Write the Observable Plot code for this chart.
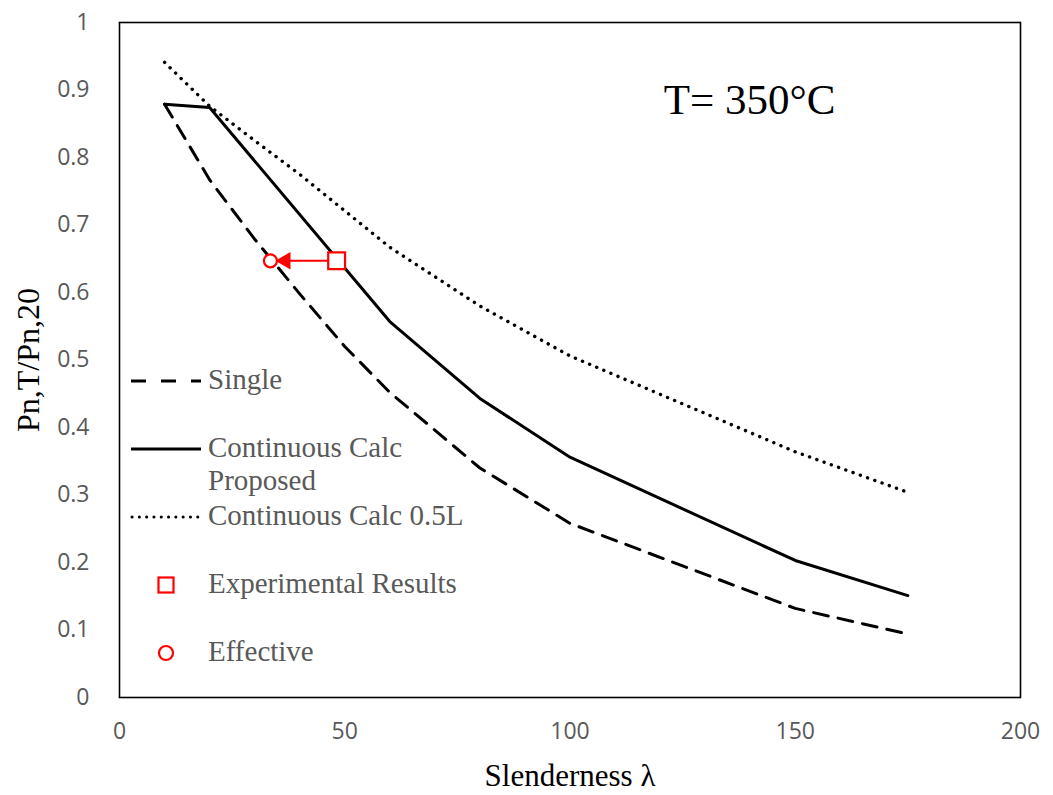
<!DOCTYPE html>
<html>
<head>
<meta charset="utf-8">
<script src="https://cdn.jsdelivr.net/npm/d3@7"></script>
<script src="https://cdn.jsdelivr.net/npm/@observablehq/plot@0.6"></script>
<style>
  html, body { margin: 0; padding: 0; background: #fff; }
  #wrap { position: relative; width: 1053px; height: 795px; }
  #legend { position: absolute; left: 0; top: 0; pointer-events: none; }
  #legend text { font-family: "Liberation Serif", "Times New Roman", serif; font-size: 29px; fill: #595959; dominant-baseline: middle; }
</style>
</head>
<body>
<div id="wrap"></div>
<script>
// ---- Data ----
const slenderness = [10, 20, 30, 40, 50, 60, 80, 100, 150, 175];
const single      = [0.879, 0.767, 0.679, 0.598, 0.520, 0.452, 0.340, 0.258, 0.132, 0.094];
const contX       = [10, 20, 60, 80, 100, 150, 175];
const contCalc    = [0.879, 0.874, 0.557, 0.443, 0.356, 0.203, 0.151];
const halfL       = [0.941, 0.876, 0.825, 0.775, 0.721, 0.667, 0.580, 0.506, 0.364, 0.304];
const experimentalX = [48.2];
const experimentalY = [0.647];
const effectiveX  = [33.5];
const effectiveY  = [0.647];
const xTicks = [0, 50, 100, 150, 200];
const yTicks = [0, 0.1, 0.2, 0.3, 0.4, 0.5, 0.6, 0.7, 0.8, 0.9, 1];
const yTickLabels = ["0", "0.1", "0.2", "0.3", "0.4", "0.5", "0.6", "0.7", "0.8", "0.9", "1"];
const titleText = "T= 350°C";
const xLabel = "Slenderness λ";
const yLabel = "Pn,T/Pn,20";
const legendLabels = ["Single", "Continuous Calc", "Proposed", "Continuous Calc 0.5L", "Experimental Results", "Effective"];

// ---- Tables built from the arrays ----
const singleData = slenderness.map((x, i) => ({x, y: single[i]}));
const halfData = slenderness.map((x, i) => ({x, y: halfL[i]}));
const contData = contX.map((x, i) => ({x, y: contCalc[i]}));
const expData = experimentalX.map((x, i) => ({x, y: experimentalY[i]}));
const effData = effectiveX.map((x, i) => ({x, y: effectiveY[i]}));
const arrowData = expData.map((d, i) => ({x1: d.x, y1: d.y, x2: effData[i].x, y2: effData[i].y}));

const serif = "Liberation Serif, Times New Roman, serif";
const sans = "Open Sans, Roboto, sans-serif";
const grey = "#595959";

const chart = Plot.plot({
  width: 1053,
  height: 795,
  marginLeft: 119,
  marginRight: 33,
  marginTop: 22,
  marginBottom: 98,
  style: {background: "#fff"},
  x: {domain: [0, 200]},
  y: {domain: [0, 1]},
  marks: [
    Plot.axisX({ticks: xTicks, tickSize: 0, tickPadding: 25, fontSize: 23, fontFamily: sans, fill: grey, label: null}),
    Plot.axisY({ticks: yTicks, tickSize: 0, tickPadding: 30, fontSize: 23, fontFamily: sans, fill: grey, label: null,
      tickFormat: (d) => yTickLabels[yTicks.indexOf(d)]}),
    Plot.line(halfData, {x: "x", y: "y", stroke: "black", strokeWidth: 3.4, strokeDasharray: "0.1,7.6", strokeLinecap: "round"}),
    Plot.line(singleData, {x: "x", y: "y", stroke: "black", strokeWidth: 3, strokeDasharray: "15,10"}),
    Plot.line(contData, {x: "x", y: "y", stroke: "black", strokeWidth: 3}),
    Plot.arrow(arrowData, {x1: "x1", y1: "y1", x2: "x2", y2: "y2", stroke: "red", strokeWidth: 2, headLength: 0, insetStart: 9, insetEnd: 16}),
    Plot.dot(effData, {x: "x", y: "y", symbol: "triangle", r: 6.5, fill: "red", stroke: "none", rotate: 270, dx: 15}),
    Plot.dot(expData, {x: "x", y: "y", symbol: "square", r: 9.5, stroke: "red", strokeWidth: 2.2, fill: "white"}),
    Plot.dot(effData, {x: "x", y: "y", symbol: "circle", r: 6.5, stroke: "red", strokeWidth: 2.2, fill: "white"}),
    Plot.text([titleText], {frameAnchor: "top-right", dx: -185, dy: 78, text: (d) => d, fontFamily: serif, fontSize: 43, fill: "black", textAnchor: "end", lineAnchor: "middle"}),
    Plot.text([xLabel], {frameAnchor: "bottom", dy: 79, text: (d) => d, fontFamily: serif, fontSize: 31, fill: "black", textAnchor: "middle", lineAnchor: "middle"}),
    Plot.text([yLabel], {frameAnchor: "left", dx: -91, text: (d) => d, fontFamily: serif, fontSize: 32, fill: "black", rotate: -90, textAnchor: "middle", lineAnchor: "middle"}),
    Plot.frame({stroke: "black", strokeWidth: 1.6})
  ]
});
document.getElementById("wrap").appendChild(chart);

// ---- Legend overlay (inside plot, left) ----
const NS = "http://www.w3.org/2000/svg";
const lg = document.createElementNS(NS, "svg");
lg.setAttribute("id", "legend");
lg.setAttribute("width", 1053);
lg.setAttribute("height", 795);
function el(tag, attrs, text) {
  const e = document.createElementNS(NS, tag);
  for (const k in attrs) e.setAttribute(k, attrs[k]);
  if (text != null) e.textContent = text;
  lg.appendChild(e);
  return e;
}
el("line", {x1: 131, x2: 201, y1: 381, y2: 381, stroke: "black", "stroke-width": 3, "stroke-dasharray": "15,15"});
el("text", {x: 208, y: 382}, legendLabels[0]);
el("line", {x1: 131, x2: 201, y1: 449, y2: 449, stroke: "black", "stroke-width": 3});
el("text", {x: 208, y: 450}, legendLabels[1]);
el("text", {x: 208, y: 483}, legendLabels[2]);
el("line", {x1: 132, x2: 201, y1: 517, y2: 517, stroke: "black", "stroke-width": 3, "stroke-dasharray": "0.1,7.2", "stroke-linecap": "round"});
el("text", {x: 208, y: 518}, legendLabels[3]);
el("rect", {x: 158.5, y: 577.5, width: 15, height: 15, stroke: "red", "stroke-width": 2.2, fill: "white"});
el("text", {x: 208, y: 586}, legendLabels[4]);
el("circle", {cx: 166, cy: 653, r: 7, stroke: "red", "stroke-width": 2.2, fill: "white"});
el("text", {x: 208, y: 654}, legendLabels[5]);
document.getElementById("wrap").appendChild(lg);
</script>
</body>
</html>
